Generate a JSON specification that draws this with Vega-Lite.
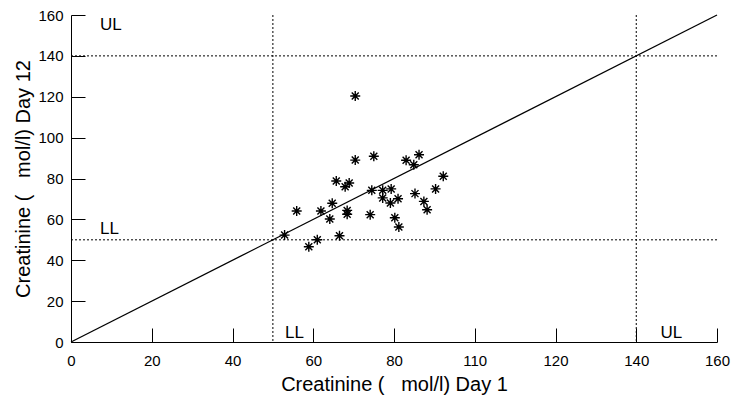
{
  "$schema": "https://vega.github.io/schema/vega-lite/v6.json",
  "autosize": {"type": "none"},
  "width": 646,
  "height": 327,
  "padding": {"left": 71, "top": 15, "right": 14, "bottom": 58},
  "background": "white",
  "config": {
    "view": {"stroke": null},
    "font": "Liberation Sans",
    "axis": {"grid": false, "domainColor": "black", "tickColor": "black", "labelColor": "black", "titleColor": "black", "labelFont": "Liberation Sans", "titleFont": "Liberation Sans", "titleFontWeight": "normal", "labelFontSize": 15, "titleFontSize": 20, "tickSize": -14, "domainWidth": 1, "tickWidth": 1}
  },
  "datasets": {
    "points": [
      {"day1": 70.4, "day12": 120.4}, {"day1": 70.4, "day12": 89.0}, {"day1": 75.0, "day12": 90.9},
      {"day1": 83.0, "day12": 88.9}, {"day1": 86.2, "day12": 91.6}, {"day1": 84.9, "day12": 86.7},
      {"day1": 92.2, "day12": 81.1}, {"day1": 65.7, "day12": 78.8}, {"day1": 68.9, "day12": 77.8},
      {"day1": 67.9, "day12": 76.0}, {"day1": 74.5, "day12": 74.2}, {"day1": 77.2, "day12": 74.2},
      {"day1": 79.3, "day12": 74.9}, {"day1": 77.2, "day12": 70.5}, {"day1": 79.1, "day12": 68.0},
      {"day1": 81.0, "day12": 70.1}, {"day1": 85.2, "day12": 72.6}, {"day1": 90.3, "day12": 74.9},
      {"day1": 87.4, "day12": 68.8}, {"day1": 88.2, "day12": 64.7}, {"day1": 64.7, "day12": 67.9},
      {"day1": 61.9, "day12": 64.1}, {"day1": 55.9, "day12": 64.1}, {"day1": 64.1, "day12": 60.2},
      {"day1": 68.4, "day12": 64.4}, {"day1": 68.4, "day12": 62.5}, {"day1": 74.1, "day12": 62.3},
      {"day1": 80.2, "day12": 60.8}, {"day1": 81.2, "day12": 56.3}, {"day1": 66.5, "day12": 52.0},
      {"day1": 61.0, "day12": 50.0}, {"day1": 58.9, "day12": 46.6}, {"day1": 52.9, "day12": 52.3}
    ],
    "identity": [{"v": 0}, {"v": 160}],
    "vlimits": [{"x": 50}, {"x": 140}],
    "hlimits": [{"y": 50}, {"y": 140}],
    "labels": [
      {"x": 7.2, "y": 155, "text": "UL"},
      {"x": 7.2, "y": 55.3, "text": "LL"},
      {"x": 53, "y": 4.4, "text": "LL"},
      {"x": 146, "y": 4.4, "text": "UL"}
    ]
  },
  "encoding": {},
  "layer": [
    {
      "data": {"name": "vlimits"},
      "mark": {"type": "rule", "color": "black", "strokeDash": [2, 2], "strokeWidth": 1},
      "encoding": {
        "x": {"field": "x", "type": "quantitative", "scale": {"domain": [0, 160], "nice": false},
          "axis": {"title": "Creatinine ( \u00a0\u00a0mol/l) Day 1", "values": [0, 20, 40, 60, 80, 100, 120, 140, 160], "labelExpr": "datum.value == 100 ? '110' : datum.label", "labelPadding": 25, "titlePadding": 6, "labelFlush": false}}
      }
    },
    {
      "data": {"name": "hlimits"},
      "mark": {"type": "rule", "color": "black", "strokeDash": [2, 2], "strokeWidth": 1},
      "encoding": {
        "y": {"field": "y", "type": "quantitative", "scale": {"domain": [0, 160], "nice": false},
          "axis": {"title": "Creatinine ( \u00a0\u00a0mol/l) Day 12", "values": [0, 20, 40, 60, 80, 100, 120, 140, 160], "labelPadding": 22, "titlePadding": 4, "labelFlush": false}}
      }
    },
    {
      "data": {"name": "identity"},
      "mark": {"type": "line", "color": "black", "strokeWidth": 1.3},
      "encoding": {
        "x": {"field": "v", "type": "quantitative"},
        "y": {"field": "v", "type": "quantitative"}
      }
    },
    {
      "data": {"name": "points"},
      "mark": {"type": "point", "shape": "M-1,0L1,0M0,-1L0,1M-0.7,-0.7L0.7,0.7M-0.7,0.7L0.7,-0.7", "filled": false, "color": "black", "size": 100, "strokeWidth": 1.4, "opacity": 1},
      "encoding": {
        "x": {"field": "day1", "type": "quantitative"},
        "y": {"field": "day12", "type": "quantitative"}
      }
    },
    {
      "data": {"name": "labels"},
      "mark": {"type": "text", "align": "left", "baseline": "middle", "fontSize": 17, "color": "black"},
      "encoding": {
        "x": {"field": "x", "type": "quantitative"},
        "y": {"field": "y", "type": "quantitative"},
        "text": {"field": "text"}
      }
    }
  ]
}
